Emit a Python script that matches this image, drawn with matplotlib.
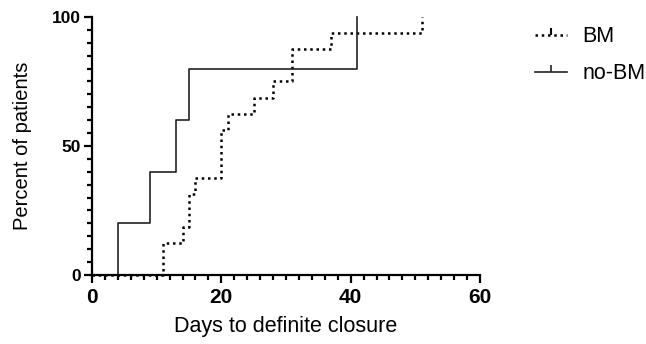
import matplotlib
matplotlib.use("Agg")
import matplotlib.pyplot as plt
from matplotlib.lines import Line2D
from matplotlib.ticker import MultipleLocator

plt.rcParams['font.family'] = ['Liberation Sans', 'DejaVu Sans']

# BM: step-up cumulative curve
bm_days = [0, 11, 14, 15, 16, 20, 21, 25, 28, 31, 37, 51]
bm_pct = [0, 12.5, 18.75, 31.25, 37.5, 56.25, 62.5, 68.75, 75, 87.5, 93.75, 100]
# no-BM
nobm_days = [0, 4, 9, 13, 15, 41]
nobm_pct = [0, 20, 40, 60, 80, 100]

x_ticks = [0, 20, 40, 60]
y_ticks = [0, 50, 100]

fig = plt.figure(figsize=(6.46, 3.44), dpi=100)
ax = fig.add_axes([0.1424, 0.2006, 0.743 - 0.1424, 0.9506 - 0.2006])

ax.step(bm_days, bm_pct, where='post', color='black', lw=1.8,
        linestyle=(0, (1, 1.5)), dash_capstyle='butt', clip_on=False, zorder=2)
ax.step(nobm_days, nobm_pct, where='post', color='#222222', lw=1.2,
        clip_on=False, zorder=2)

ax.set_xlim(0, 60)
ax.set_ylim(0, 100)
ax.set_xticks(x_ticks)
ax.set_yticks(y_ticks)
ax.xaxis.set_minor_locator(MultipleLocator(2))
ax.yaxis.set_minor_locator(MultipleLocator(5))
for s in ['top', 'right']:
    ax.spines[s].set_visible(False)
for s in ['left', 'bottom']:
    ax.spines[s].set_linewidth(1.6)
    ax.spines[s].set_zorder(3)
ax.tick_params(which='major', length=6, width=1.6, direction='out')
ax.tick_params(which='minor', length=3.5, width=1.6, direction='out')
ax.tick_params(axis='y', which='major', pad=2)
for lab in ax.get_xticklabels():
    lab.set_fontweight('bold')
    lab.set_fontsize(15)
for lab in ax.get_yticklabels():
    lab.set_fontweight('bold')
    lab.set_fontsize(12.5)

ax.set_xlabel('Days to definite closure', fontsize=15.5, labelpad=6)
ax.set_ylabel('Percent of patients', fontsize=14.5, labelpad=14)

handles = [
    Line2D([], [], color='black', lw=1.8, linestyle=(0, (1, 1.5)),
           marker=2, markersize=5, markeredgewidth=1.5),
    Line2D([], [], color='#222222', lw=1.2, marker=2, markersize=5,
           markeredgewidth=1.2),
]
fig.legend(handles, ['BM', 'no-BM'], loc='upper left',
           bbox_to_anchor=(0.828, 0.924), frameon=False, fontsize=15.5,
           handlelength=1.5, handletextpad=0.7, labelspacing=0.75,
           borderpad=0, borderaxespad=0, numpoints=1)

fig.savefig('out.png', dpi=100)
